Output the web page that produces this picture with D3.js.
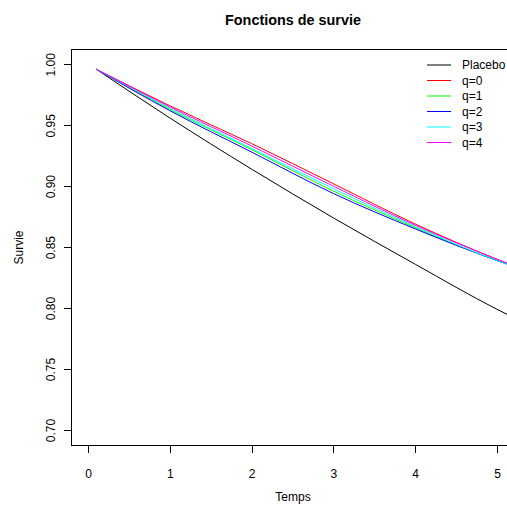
<!DOCTYPE html>
<html lang="fr">
<head>
  <meta charset="utf-8">
  <title>Fonctions de survie</title>
  <script src="https://cdn.jsdelivr.net/npm/d3@7"></script>
  <style>
    body { margin: 0; background: #fff; }
    svg { display: block; font-family: "Liberation Sans", Arial, sans-serif; }
    .axis path { display: none; }
    .axis line { stroke: #000; shape-rendering: crispEdges; }
    .axis text { font-size: 12px; fill: #000; }
  </style>
</head>
<body>
  <div id="box"></div>
  <script>
    const width = 507
    const height = 506

    // données
    const temps = [0.1, 1, 2, 3, 4, 5, 5.3]
    const placebo = [0.996, 0.956, 0.914, 0.874, 0.836, 0.799, 0.789]
    const q0 = [0.996, 0.966, 0.935, 0.902, 0.869, 0.840, 0.832]
    const q1 = [0.996, 0.963, 0.930, 0.896, 0.866, 0.839, 0.832]
    const q2 = [0.996, 0.962, 0.928, 0.894, 0.865, 0.839, 0.832]
    const q3 = [0.996, 0.964, 0.931, 0.898, 0.867, 0.839, 0.832]
    const q4 = [0.996, 0.965, 0.933, 0.900, 0.868, 0.840, 0.832]

    const seriesNames = ['Placebo', 'q=0', 'q=1', 'q=2', 'q=3', 'q=4']
    const seriesValues = [placebo, q0, q1, q2, q3, q4]
    const seriesColors = ['#000000', '#ff0000', '#00ff00', '#0000ff', '#00ffff', '#ff00ff']

    const xTicks = [0, 1, 2, 3, 4, 5]
    const yTicks = [0.70, 0.75, 0.80, 0.85, 0.90, 0.95, 1.00]

    // cadre du graphique (dépasse à droite comme l'original)
    const box = { left: 71.5, top: 49.5, right: 514, bottom: 445.5 }

    const xScale = d3.scaleLinear().domain([0, 5]).range([88, 497])
    const yScale = d3.scaleLinear().domain([0.7, 1.0]).range([430, 64.3])

    const svg = d3.select('#box').append('svg')
      .attr('width', width)
      .attr('height', height)

    svg.append('clipPath').attr('id', 'clip')
      .append('rect')
      .attr('x', box.left).attr('y', box.top)
      .attr('width', box.right - box.left).attr('height', box.bottom - box.top)

    // courbes
    const line = d3.line()
      .x((d, i) => xScale(temps[i]))
      .y(d => yScale(d))
      .curve(d3.curveMonotoneX)

    svg.append('g').attr('clip-path', 'url(#clip)')
      .selectAll('path')
      .data(seriesValues)
      .enter()
      .append('path')
      .attr('d', d => line(d))
      .attr('fill', 'none')
      .attr('stroke', (d, i) => seriesColors[i])
      .attr('stroke-width', 1)

    // cadre
    svg.append('rect')
      .attr('x', box.left).attr('y', box.top)
      .attr('width', box.right - box.left).attr('height', box.bottom - box.top)
      .attr('fill', 'none')
      .attr('stroke', '#000')
      .attr('stroke-width', 1)

    // axe x
    const xAxis = d3.axisBottom(xScale).tickValues(xTicks).tickSize(7.5).tickPadding(16).tickFormat(d3.format('d'))
    svg.append('g')
      .attr('class', 'axis')
      .attr('transform', `translate(0,${box.bottom})`)
      .call(xAxis)

    // axe y
    const yAxis = d3.axisLeft(yScale).tickValues(yTicks).tickSize(7.5).tickFormat(d3.format('.2f'))
    const gy = svg.append('g')
      .attr('class', 'axis')
      .attr('transform', `translate(${box.left},0)`)
      .call(yAxis)
    gy.selectAll('.tick text')
      .attr('x', 0).attr('dy', 0)
      .attr('text-anchor', 'middle')
      .attr('transform', 'translate(-16.5,0) rotate(-90)')

    // titres
    svg.append('text')
      .attr('x', 293).attr('y', 25)
      .attr('text-anchor', 'middle')
      .attr('font-size', '14.4px')
      .attr('font-weight', 'bold')
      .text('Fonctions de survie')

    svg.append('text')
      .attr('x', 293).attr('y', 501)
      .attr('text-anchor', 'middle')
      .attr('font-size', '12px')
      .text('Temps')

    svg.append('text')
      .attr('transform', `translate(23,${(box.top + box.bottom) / 2}) rotate(-90)`)
      .attr('text-anchor', 'middle')
      .attr('font-size', '12px')
      .text('Survie')

    // légende
    const legend = svg.append('g')
      .selectAll('g')
      .data(seriesNames)
      .enter()
      .append('g')
      .attr('transform', (d, i) => `translate(427,${65 + i * 15.5})`)

    legend.append('line')
      .attr('x1', 0).attr('x2', 24)
      .attr('stroke', (d, i) => seriesColors[i])
      .attr('stroke-width', 1)

    legend.append('text')
      .attr('x', 35)
      .attr('dy', '0.35em')
      .attr('font-size', '12px')
      .text(d => d)
  </script>
</body>
</html>
